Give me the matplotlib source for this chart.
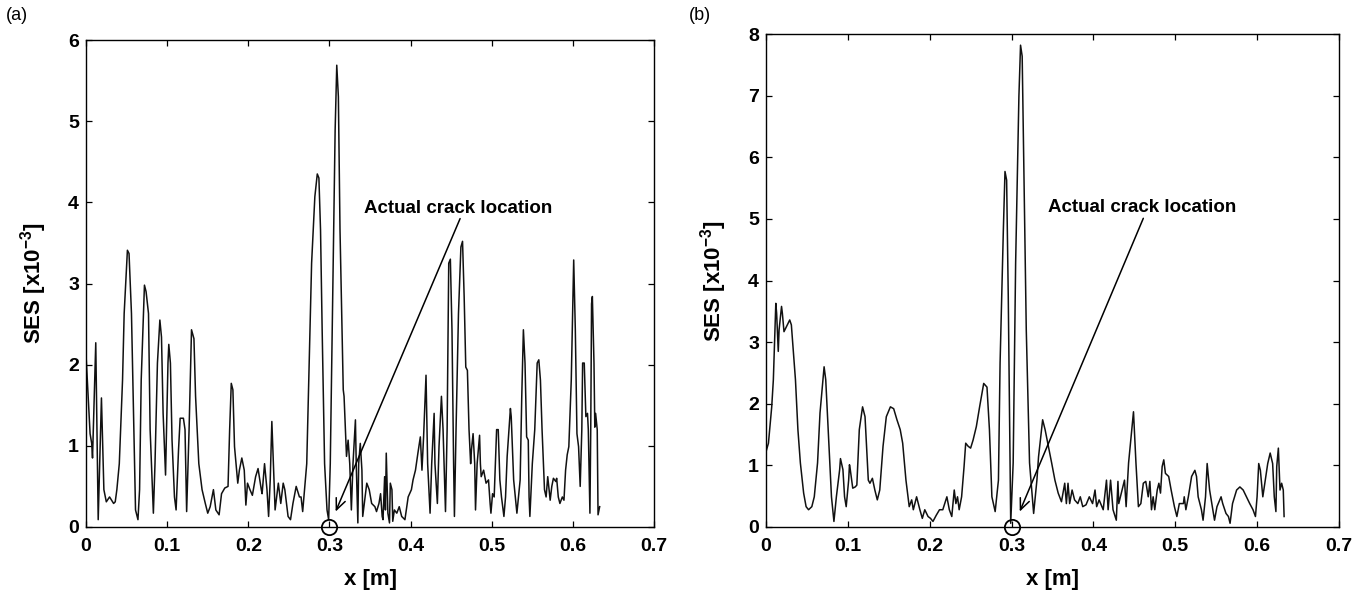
import matplotlib
matplotlib.use("Agg")
import matplotlib.pyplot as plt

plt.rcParams['font.family'] = ['Liberation Sans', 'DejaVu Sans']
plt.rcParams['mathtext.fontset'] = 'custom'
plt.rcParams['mathtext.rm'] = 'Liberation Sans'
plt.rcParams['mathtext.bf'] = 'Liberation Sans:bold'

# panel (a) SES curve, x [m], SES [x10^-3]
xa = [0.000, 0.005, 0.007, 0.008, 0.012, 0.015, 0.019, 0.022, 0.025, 0.029,
      0.034, 0.036, 0.038, 0.041, 0.045, 0.047, 0.051, 0.053, 0.056, 0.059,
      0.061, 0.064, 0.066, 0.068, 0.072, 0.074, 0.077, 0.079, 0.083, 0.085,
      0.088, 0.091, 0.093, 0.095, 0.098, 0.101, 0.102, 0.104, 0.106, 0.109,
      0.111, 0.114, 0.116, 0.120, 0.122, 0.124, 0.127, 0.130, 0.133, 0.135,
      0.139, 0.143, 0.147, 0.150, 0.153, 0.157, 0.160, 0.164, 0.167, 0.171,
      0.175, 0.177, 0.179, 0.181, 0.183, 0.187, 0.189, 0.192, 0.195, 0.197,
      0.199, 0.202, 0.205, 0.209, 0.212, 0.216, 0.217, 0.220, 0.223, 0.225,
      0.227, 0.229, 0.233, 0.237, 0.240, 0.243, 0.245, 0.249, 0.252, 0.255,
      0.259, 0.263, 0.265, 0.267, 0.272, 0.275, 0.278, 0.282, 0.285, 0.287,
      0.289, 0.291, 0.294, 0.297, 0.299, 0.301, 0.304, 0.307, 0.309, 0.311,
      0.313, 0.317, 0.318, 0.321, 0.323, 0.325, 0.327, 0.329, 0.332, 0.333,
      0.335, 0.336, 0.338, 0.340, 0.341, 0.344, 0.346, 0.349, 0.352, 0.356,
      0.358, 0.361, 0.363, 0.365, 0.366, 0.368, 0.369, 0.370, 0.372, 0.374,
      0.375, 0.377, 0.378, 0.380, 0.383, 0.386, 0.389, 0.393, 0.397, 0.401,
      0.403, 0.406, 0.409, 0.412, 0.414, 0.416, 0.419, 0.421, 0.424, 0.426,
      0.429, 0.430, 0.433, 0.435, 0.438, 0.440, 0.443, 0.445, 0.447, 0.449,
      0.451, 0.453, 0.454, 0.456, 0.459, 0.462, 0.464, 0.466, 0.468, 0.470,
      0.472, 0.474, 0.475, 0.477, 0.479, 0.480, 0.482, 0.485, 0.486, 0.487,
      0.490, 0.493, 0.496, 0.498, 0.499, 0.501, 0.503, 0.506, 0.508, 0.510,
      0.512, 0.515, 0.517, 0.519, 0.523, 0.524, 0.527, 0.531, 0.535, 0.537,
      0.539, 0.541, 0.543, 0.545, 0.546, 0.547, 0.550, 0.553, 0.556, 0.558,
      0.560, 0.562, 0.565, 0.567, 0.569, 0.572, 0.574, 0.576, 0.579, 0.580,
      0.582, 0.584, 0.587, 0.589, 0.591, 0.593, 0.595, 0.598, 0.601, 0.603,
      0.605, 0.607, 0.609, 0.611, 0.612, 0.614, 0.616, 0.618, 0.619, 0.621,
      0.622, 0.623, 0.624, 0.626, 0.627, 0.628, 0.630, 0.631, 0.633]
ya = [2.12, 1.15, 1.03, 0.85, 2.27, 0.09, 1.59, 0.46, 0.31, 0.37,
      0.29, 0.31, 0.46, 0.78, 1.81, 2.63, 3.41, 3.37, 2.63, 1.20,
      0.21, 0.09, 0.46, 1.81, 2.98, 2.90, 2.63, 1.20, 0.17, 0.78,
      2.02, 2.55, 2.34, 1.40, 0.64, 2.02, 2.25, 2.02, 1.07, 0.37,
      0.21, 0.95, 1.34, 1.34, 1.20, 0.19, 1.20, 2.43, 2.32, 1.61,
      0.78, 0.46, 0.29, 0.17, 0.25, 0.46, 0.21, 0.15, 0.41, 0.48,
      0.50, 1.20, 1.77, 1.69, 0.99, 0.54, 0.70, 0.85, 0.70, 0.27,
      0.54, 0.46, 0.39, 0.62, 0.72, 0.46, 0.41, 0.78, 0.46, 0.13,
      0.58, 1.30, 0.21, 0.54, 0.29, 0.54, 0.46, 0.13, 0.09, 0.29,
      0.50, 0.37, 0.37, 0.19, 0.78, 2.02, 3.25, 4.07, 4.35, 4.30,
      3.66, 2.43, 0.78, 0.21, 0.09, 0.78, 2.84, 4.89, 5.69, 5.30,
      3.66, 1.69, 1.61, 0.87, 1.07, 0.78, 0.21, 0.78, 1.32, 0.78,
      0.05, 0.78, 1.03, 0.70, 0.13, 0.37, 0.54, 0.46, 0.29, 0.25,
      0.19, 0.29, 0.41, 0.13, 0.09, 0.62, 0.21, 0.91, 0.17, 0.05,
      0.54, 0.46, 0.07, 0.21, 0.17, 0.25, 0.13, 0.09, 0.37, 0.46,
      0.58, 0.70, 0.91, 1.11, 0.70, 1.11, 1.87, 0.78, 0.17, 0.78,
      1.40, 0.78, 0.29, 0.99, 1.61, 1.20, 0.19, 1.20, 3.25, 3.30,
      2.43, 0.78, 0.13, 1.20, 2.63, 3.45, 3.52, 2.84, 1.97, 1.93,
      1.20, 0.78, 0.95, 1.15, 0.78, 0.21, 0.78, 1.13, 0.78, 0.62,
      0.70, 0.54, 0.58, 0.29, 0.17, 0.41, 0.37, 1.20, 1.20, 0.58,
      0.37, 0.13, 0.37, 0.87, 1.46, 1.36, 0.58, 0.17, 0.58, 1.61,
      2.43, 2.02, 1.11, 1.07, 0.37, 0.13, 0.78, 1.20, 2.02, 2.06,
      1.81, 1.20, 0.46, 0.37, 0.62, 0.33, 0.50, 0.60, 0.56, 0.60,
      0.37, 0.29, 0.37, 0.33, 0.70, 0.89, 0.99, 1.81, 3.29, 2.43,
      1.15, 0.99, 0.50, 1.20, 2.02, 2.02, 1.36, 1.40, 1.20, 0.17,
      1.20, 2.75, 2.84, 2.02, 1.23, 1.40, 1.20, 0.15, 0.25]

# panel (b) SES curve
xb = [0.000, 0.003, 0.007, 0.009, 0.011, 0.012, 0.013, 0.015, 0.016, 0.019,
      0.020, 0.022, 0.025, 0.029, 0.031, 0.033, 0.036, 0.039, 0.042, 0.046,
      0.049, 0.052, 0.056, 0.059, 0.063, 0.066, 0.071, 0.073, 0.076, 0.080,
      0.083, 0.086, 0.090, 0.091, 0.094, 0.096, 0.098, 0.101, 0.102, 0.103,
      0.106, 0.109, 0.111, 0.114, 0.118, 0.121, 0.125, 0.127, 0.130, 0.133,
      0.136, 0.139, 0.143, 0.147, 0.152, 0.156, 0.160, 0.164, 0.167, 0.171,
      0.175, 0.178, 0.180, 0.184, 0.188, 0.191, 0.194, 0.198, 0.201, 0.204,
      0.208, 0.212, 0.216, 0.221, 0.224, 0.227, 0.230, 0.232, 0.234, 0.236,
      0.239, 0.242, 0.244, 0.247, 0.250, 0.253, 0.257, 0.261, 0.266, 0.270,
      0.273, 0.276, 0.280, 0.284, 0.286, 0.290, 0.292, 0.294, 0.296, 0.298,
      0.299, 0.302, 0.305, 0.309, 0.311, 0.313, 0.315, 0.318, 0.322, 0.327,
      0.331, 0.333, 0.338, 0.341, 0.345, 0.349, 0.353, 0.357, 0.361, 0.365,
      0.367, 0.369, 0.371, 0.374, 0.377, 0.381, 0.384, 0.387, 0.391, 0.395,
      0.399, 0.402, 0.404, 0.407, 0.412, 0.416, 0.418, 0.421, 0.424, 0.428,
      0.430, 0.431, 0.438, 0.440, 0.443, 0.449, 0.452, 0.455, 0.458, 0.461,
      0.464, 0.467, 0.469, 0.471, 0.473, 0.475, 0.478, 0.480, 0.482, 0.484,
      0.486, 0.488, 0.492, 0.495, 0.499, 0.502, 0.505, 0.510, 0.511, 0.513,
      0.516, 0.520, 0.524, 0.526, 0.528, 0.532, 0.534, 0.537, 0.539, 0.542,
      0.546, 0.548, 0.551, 0.556, 0.558, 0.562, 0.565, 0.567, 0.570, 0.575,
      0.579, 0.583, 0.587, 0.591, 0.595, 0.598, 0.600, 0.602, 0.604, 0.607,
      0.613, 0.616, 0.619, 0.621, 0.623, 0.624, 0.626, 0.628, 0.630, 0.632,
      0.633]
yb = [1.22, 1.36, 1.95, 2.39, 3.20, 3.63, 3.47, 2.85, 3.20, 3.58,
      3.47, 3.17, 3.25, 3.36, 3.28, 2.93, 2.39, 1.58, 1.04, 0.55,
      0.33, 0.28, 0.33, 0.49, 1.04, 1.85, 2.60, 2.39, 1.58, 0.49,
      0.09, 0.49, 0.93, 1.11, 0.93, 0.49, 0.33, 0.76, 1.01, 0.93,
      0.63, 0.65, 0.68, 1.58, 1.95, 1.79, 0.76, 0.71, 0.79, 0.60,
      0.44, 0.60, 1.31, 1.79, 1.95, 1.92, 1.74, 1.58, 1.36, 0.76,
      0.33, 0.44, 0.28, 0.49, 0.28, 0.14, 0.28, 0.17, 0.14, 0.09,
      0.19, 0.28, 0.28, 0.49, 0.28, 0.17, 0.60, 0.38, 0.49, 0.28,
      0.49, 0.98, 1.36, 1.31, 1.28, 1.41, 1.63, 1.95, 2.33, 2.27,
      1.58, 0.49, 0.25, 0.76, 2.66, 4.82, 5.77, 5.63, 3.74, 1.31,
      0.06, 1.04, 4.28, 6.99, 7.82, 7.64, 5.90, 3.20, 1.04, 0.22,
      0.76, 1.14, 1.74, 1.58, 1.31, 1.04, 0.76, 0.55, 0.41, 0.71,
      0.38, 0.71, 0.38, 0.60, 0.44, 0.38, 0.49, 0.33, 0.36, 0.49,
      0.38, 0.60, 0.33, 0.44, 0.28, 0.76, 0.28, 0.76, 0.28, 0.11,
      0.74, 0.38, 0.76, 0.33, 1.04, 1.87, 1.04, 0.33, 0.38, 0.71,
      0.74, 0.49, 0.74, 0.28, 0.49, 0.28, 0.60, 0.71, 0.55, 0.98,
      1.09, 0.87, 0.82, 0.60, 0.33, 0.17, 0.38, 0.38, 0.49, 0.28,
      0.49, 0.82, 0.92, 0.82, 0.49, 0.28, 0.11, 0.49, 1.03, 0.60,
      0.28, 0.11, 0.33, 0.49, 0.38, 0.22, 0.17, 0.06, 0.38, 0.60,
      0.65, 0.60, 0.49, 0.38, 0.28, 0.17, 0.49, 1.03, 0.92, 0.49,
      1.03, 1.20, 1.03, 0.49, 0.25, 0.98, 1.28, 0.60, 0.71, 0.60,
      0.17]

crack_x = 0.3
xticks = [0, 0.1, 0.2, 0.3, 0.4, 0.5, 0.6, 0.7]
xticklabels = ['0', '0.1', '0.2', '0.3', '0.4', '0.5', '0.6', '0.7']

fig = plt.figure(figsize=(13.72, 5.96), dpi=100)
ax_a = fig.add_axes([0.0627, 0.1158, 0.414, 0.817])
ax_b = fig.add_axes([0.5583, 0.1158, 0.4176, 0.827])


def setup(ax, ymax, label_xy, arrow_from, arrow_to, panel, panel_xy):
    ax.set_xlim(0, 0.7)
    ax.set_ylim(0, ymax)
    ax.set_xticks(xticks)
    ax.set_xticklabels(xticklabels)
    ax.set_yticks(range(0, ymax + 1))
    ax.tick_params(axis='x', direction='in', top=True, length=4, width=0.9,
                   labelsize=14, pad=8)
    ax.tick_params(axis='y', direction='in', right=True, length=4, width=0.9,
                   labelsize=14, pad=5)
    for lab in ax.get_xticklabels() + ax.get_yticklabels():
        lab.set_fontweight('bold')
    for s in ax.spines.values():
        s.set_linewidth(1.0)
    ax.set_xlabel('x [m]', fontsize=16, fontweight='bold', labelpad=10)
    ax.set_ylabel(r'SES [x10$^{\mathbf{-3}}$]', fontsize=16, fontweight='bold',
                  labelpad=14)
    ax.text(label_xy[0], label_xy[1], 'Actual crack location', ha='center',
            va='center', fontsize=13.5, fontweight='bold')
    ax.annotate('', xy=arrow_to, xytext=arrow_from,
                arrowprops=dict(arrowstyle='->,head_length=0.8,head_width=0.35',
                                lw=1.1, color='k', shrinkA=0, shrinkB=0))
    ax.plot([crack_x], [0], 'o', mfc='none', mec='k', ms=11, mew=1.3,
            clip_on=False, zorder=5)
    fig.text(panel_xy[0], panel_xy[1], panel, fontsize=13, ha='left', va='center')


ax_a.plot(xa, ya, color='#111111', lw=1.1)
setup(ax_a, 6, (0.459, 3.93), (0.461, 3.80), (0.3076, 0.19), '(a)', (0.004, 0.974))

ax_b.plot(xb, yb, color='#111111', lw=1.1)
setup(ax_b, 8, (0.459, 5.18), (0.461, 5.01), (0.310, 0.25), '(b)', (0.502, 0.974))

fig.savefig('out.png', dpi=100)
